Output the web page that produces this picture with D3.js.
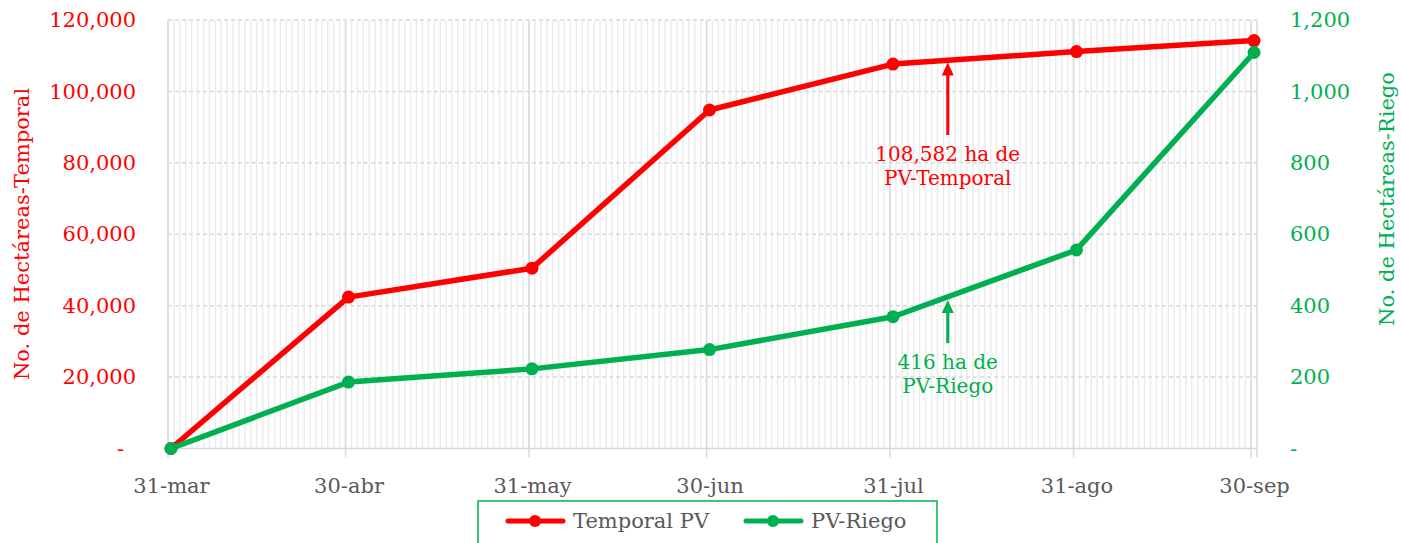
<!DOCTYPE html>
<html>
<head>
<meta charset="utf-8">
<script src="https://cdn.jsdelivr.net/npm/d3@7"></script>
<style>
  body { margin: 0; background: #fff; }
  svg text { font-family: "DejaVu Serif", serif; }
</style>
</head>
<body>
<svg id="chart" width="1401" height="543"></svg>
<script>
// Cut-off dates, one per point.
var dates = ['2023-03-31', '2023-04-30', '2023-05-31', '2023-06-30', '2023-07-31', '2023-08-31', '2023-09-30'];
var dateLabels = ['31-mar', '30-abr', '31-may', '30-jun', '31-jul', '31-ago', '30-sep'];

// Hectares.
var temporalPV = [0, 42400, 50500, 94800, 107650, 111150, 114250];
var riegoPV = [0, 186, 223, 277, 369, 556, 1109];

var leftTicks = [0, 20000, 40000, 60000, 80000, 100000, 120000];
var rightTicks = [0, 200, 400, 600, 800, 1000, 1200];

// Call-outs: date, arrow tip, arrow tail, text lines.
var noteDate = '2023-08-09T06:00';
var temporalNote = { tip: 108100, tail: 87800, lines: ['108,582 ha de', 'PV-Temporal'] };
var riegoNote = { tip: 416, tail: 295, lines: ['416 ha de', 'PV-Riego'] };

var RED = '#FF0000';
var GREEN = '#00B050';
var GREY = '#595959';
var HALF_DAY = 12 * 3600 * 1000;

var parse = function(s) { return new Date(s + (s.length == 10 ? 'T00:00' : '')); };
var days = dates.map(parse);

var svg = d3.select('#chart');

var x = d3.scaleTime()
  .domain([new Date(+days[0] - HALF_DAY), new Date(+days[days.length - 1] + HALF_DAY)])
  .range([168, 1257]);
var yL = d3.scaleLinear().domain([0, 120000]).range([448.5, 20]);
var yR = d3.scaleLinear().domain([0, 1200]).range([448.5, 20]);

// Daily minor gridlines (day boundaries).
var allDays = d3.timeDay.range(days[0], new Date(+days[days.length - 1] + 2 * HALF_DAY));
svg.append('g')
  .selectAll('line')
  .data(allDays)
  .join('line')
  .attr('x1', function(d) { return x(new Date(+d - HALF_DAY)); })
  .attr('x2', function(d) { return x(new Date(+d - HALF_DAY)); })
  .attr('y1', yL(120000))
  .attr('y2', yL(0))
  .attr('stroke', '#ececec')
  .attr('stroke-width', 1.5);

// Horizontal dashed gridlines.
svg.append('g')
  .selectAll('line')
  .data(leftTicks.slice(1))
  .join('line')
  .attr('x1', x.range()[0])
  .attr('x2', x.range()[1])
  .attr('y1', function(d) { return yL(d); })
  .attr('y2', function(d) { return yL(d); })
  .attr('stroke', '#d9d9d9')
  .attr('stroke-width', 1.5)
  .attr('stroke-dasharray', '4,3');

// Major gridlines at the month-end dates, plus the right border.
svg.append('g')
  .selectAll('line')
  .data(days)
  .join('line')
  .attr('x1', function(d) { return x(new Date(+d - HALF_DAY)); })
  .attr('x2', function(d) { return x(new Date(+d - HALF_DAY)); })
  .attr('y1', yL(120000))
  .attr('y2', yL(0) + 9)
  .attr('stroke', '#d9d9d9')
  .attr('stroke-width', 1.5);

svg.append('line')
  .attr('x1', x.range()[1]).attr('x2', x.range()[1])
  .attr('y1', yL(120000)).attr('y2', yL(0) + 9)
  .attr('stroke', '#d9d9d9').attr('stroke-width', 1.5);

svg.append('line')
  .attr('x1', x.range()[0]).attr('x2', x.range()[1])
  .attr('y1', yL(0)).attr('y2', yL(0))
  .attr('stroke', '#d9d9d9').attr('stroke-width', 1.5);

// Bottom axis labels, centred under each point.
var xAxis = svg.append('g')
  .attr('transform', 'translate(0,' + yL(0) + ')')
  .call(d3.axisBottom(x)
    .tickValues(days)
    .tickSize(0)
    .tickPadding(30)
    .tickFormat(function(d, i) { return dateLabels[i]; }));
xAxis.select('.domain').remove();
xAxis.selectAll('text')
  .attr('fill', GREY)
  .style('font-size', '21px')
  .style('font-family', '"DejaVu Serif", serif');

// Left axis.
var leftAxis = svg.append('g')
  .attr('transform', 'translate(136,0)')
  .call(d3.axisLeft(yL)
    .tickValues(leftTicks)
    .tickSize(0)
    .tickPadding(0)
    .tickFormat(function(d) { return d == 0 ? '-' : d3.format(',')(d); }));
leftAxis.select('.domain').remove();
leftAxis.selectAll('text')
  .attr('fill', RED)
  .style('font-size', '21px')
  .style('font-family', '"DejaVu Serif", serif')
  .attr('x', function(d) { return d == 0 ? -12 : 0; });

// Right axis.
var rightAxis = svg.append('g')
  .attr('transform', 'translate(1290,0)')
  .call(d3.axisRight(yR)
    .tickValues(rightTicks)
    .tickSize(0)
    .tickPadding(0)
    .tickFormat(function(d) { return d == 0 ? '-' : d3.format(',')(d); }));
rightAxis.select('.domain').remove();
rightAxis.selectAll('text')
  .attr('fill', GREEN)
  .style('font-size', '21px')
  .style('font-family', '"DejaVu Serif", serif');

// Axis titles.
svg.append('text')
  .attr('transform', 'translate(29,234) rotate(-90)')
  .attr('text-anchor', 'middle')
  .attr('fill', RED)
  .style('font-size', '21px')
  .text('No. de Hectáreas-Temporal');

svg.append('text')
  .attr('transform', 'translate(1394,199) rotate(-90)')
  .attr('text-anchor', 'middle')
  .attr('fill', GREEN)
  .style('font-size', '21px')
  .text('No. de Hectáreas-Riego');

// Series lines and markers.
function drawSeries(values, scale, color) {
  var pts = values.map(function(v, i) { return [x(days[i]), scale(v)]; });
  svg.append('path')
    .attr('d', d3.line()(pts))
    .attr('fill', 'none')
    .attr('stroke', color)
    .attr('stroke-width', 5.5)
    .attr('stroke-linejoin', 'round');
  svg.append('g')
    .selectAll('circle')
    .data(pts)
    .join('circle')
    .attr('cx', function(d) { return d[0]; })
    .attr('cy', function(d) { return d[1]; })
    .attr('r', 6.5)
    .attr('fill', color);
}
drawSeries(temporalPV, yL, RED);
drawSeries(riegoPV, yR, GREEN);

// Arrow call-outs.
function drawNote(note, scale, color) {
  var nx = x(parse(noteDate));
  var tipY = scale(note.tip);
  var tailY = scale(note.tail);
  svg.append('line')
    .attr('x1', nx).attr('x2', nx)
    .attr('y1', tailY).attr('y2', tipY + 10)
    .attr('stroke', color).attr('stroke-width', 3);
  svg.append('path')
    .attr('d', 'M' + nx + ',' + tipY + 'L' + (nx - 6) + ',' + (tipY + 13) + 'L' + (nx + 6) + ',' + (tipY + 13) + 'Z')
    .attr('fill', color);
  svg.append('g')
    .selectAll('text')
    .data(note.lines)
    .join('text')
    .attr('x', nx)
    .attr('y', function(d, i) { return tailY + 26 + i * 24; })
    .attr('text-anchor', 'middle')
    .attr('fill', color)
    .style('font-size', '20px')
    .text(function(d) { return d; });
}
drawNote(temporalNote, yL, RED);
drawNote(riegoNote, yR, GREEN);

// Legend.
var legendItems = [
  { name: 'Temporal PV', color: RED, x: 508 },
  { name: 'PV-Riego', color: GREEN, x: 746 }
];
svg.append('rect')
  .attr('x', 478).attr('y', 501)
  .attr('width', 459).attr('height', 60)
  .attr('fill', 'none')
  .attr('stroke', GREEN)
  .attr('stroke-width', 1.5);
var legend = svg.append('g')
  .selectAll('g')
  .data(legendItems)
  .join('g')
  .attr('transform', function(d) { return 'translate(' + d.x + ',521)'; });
legend.append('line')
  .attr('x1', 0).attr('x2', 55)
  .attr('stroke', function(d) { return d.color; })
  .attr('stroke-width', 5)
  .attr('stroke-linecap', 'round');
legend.append('circle')
  .attr('cx', 27).attr('r', 6)
  .attr('fill', function(d) { return d.color; });
legend.append('text')
  .attr('x', 65).attr('dy', '0.35em')
  .attr('fill', GREY)
  .style('font-size', '21px')
  .text(function(d) { return d.name; });
</script>
</body>
</html>
